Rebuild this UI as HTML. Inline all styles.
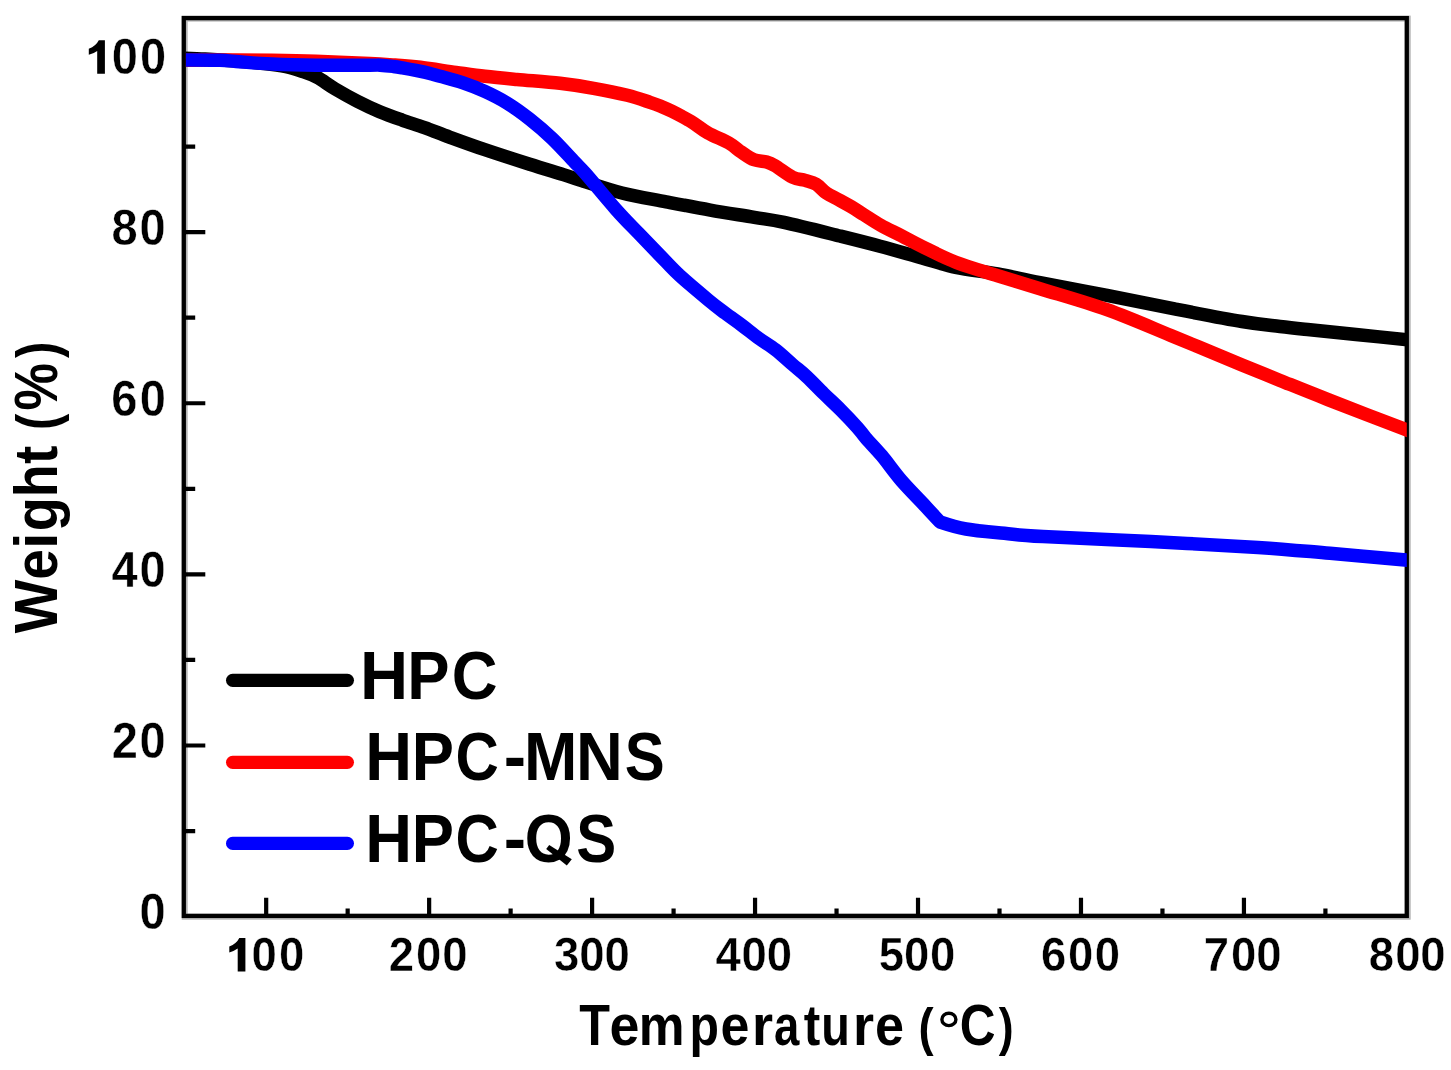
<!DOCTYPE html>
<html>
<head>
<meta charset="utf-8">
<title>TGA curves</title>
<style>
html, body { margin: 0; padding: 0; background: #ffffff; }
body { width: 1451px; height: 1070px; overflow: hidden; font-family: "Liberation Sans", sans-serif; }
svg { display: block; }
</style>
</head>
<body>
<svg width="1451" height="1070" viewBox="0 0 1451 1070">
<desc>TGA curves: Weight (%) versus Temperature (°C) from 50 to 800 for HPC (black), HPC-MNS (red) and HPC-QS (blue)</desc>
<rect x="0" y="0" width="1451" height="1070" fill="#ffffff"/>
<defs><filter id="soft" x="0" y="0" width="100%" height="100%" filterUnits="userSpaceOnUse"><feGaussianBlur stdDeviation="0.55"/></filter><clipPath id="plotclip"><rect x="185.90" y="18.20" width="1220.90" height="898.40"/></clipPath></defs>
<g filter="url(#soft)">
<rect x="184.70" y="18.60" width="1223.00" height="898.10" fill="none" stroke="#b4b4b4" stroke-width="6.0"/>
<path d="M266.18 916.60 V897.70 M347.66 916.60 V908.50 M429.14 916.60 V897.70 M510.62 916.60 V908.50 M592.10 916.60 V897.70 M673.58 916.60 V908.50 M755.06 916.60 V897.70 M836.54 916.60 V908.50 M918.02 916.60 V897.70 M999.50 916.60 V908.50 M1080.98 916.60 V897.70 M1162.46 916.60 V908.50 M1243.94 916.60 V897.70 M1325.42 916.60 V908.50 M184.70 831.04 H195.20 M184.70 745.48 H205.30 M184.70 659.91 H195.20 M184.70 574.35 H205.30 M184.70 488.79 H195.20 M184.70 403.23 H205.30 M184.70 317.67 H195.20 M184.70 232.10 H205.30 M184.70 146.54 H195.20 M184.70 60.98 H205.30" stroke="#000" stroke-width="4.20" fill="none"/>
<rect x="183.80" y="18.10" width="1223.00" height="897.80" fill="none" stroke="#000" stroke-width="4.3"/>
<g clip-path="url(#plotclip)" fill="none" stroke-linejoin="round" stroke-linecap="butt" stroke-width="13.5">
<path d="M180.00 58.00 C184.17 58.17 195.67 58.50 205.00 59.00 C214.33 59.50 226.17 60.25 236.00 61.00 C245.83 61.75 255.67 62.55 264.00 63.50 C272.33 64.45 279.67 65.40 286.00 66.70 C292.33 68.00 296.83 69.53 302.00 71.30 C307.17 73.07 311.53 74.40 317.00 77.30 C322.47 80.20 328.08 84.72 334.80 88.70 C341.52 92.68 349.82 97.37 357.30 101.20 C364.78 105.03 372.23 108.55 379.70 111.70 C387.17 114.85 394.63 117.45 402.10 120.10 C409.57 122.75 416.52 124.73 424.50 127.60 C432.48 130.47 439.95 133.62 450.00 137.30 C460.05 140.98 471.52 145.20 484.80 149.70 C498.08 154.20 516.62 160.15 529.70 164.30 C542.78 168.45 554.92 171.98 563.30 174.60 C571.68 177.22 570.22 176.93 580.00 180.00 C589.78 183.07 607.63 189.37 622.00 193.00 C636.37 196.63 651.48 198.95 666.20 201.80 C680.92 204.65 695.60 207.52 710.30 210.10 C725.00 212.68 742.12 215.25 754.40 217.30 C766.68 219.35 769.73 219.28 784.00 222.40 C798.27 225.52 824.00 232.03 840.00 236.00 C856.00 239.97 866.33 242.53 880.00 246.20 C893.67 249.87 909.38 254.48 922.00 258.00 C934.62 261.52 943.08 264.63 955.70 267.30 C968.32 269.97 983.65 271.45 997.70 274.00 C1011.75 276.55 1021.78 279.03 1040.00 282.60 C1058.22 286.17 1084.58 291.02 1107.00 295.40 C1129.42 299.78 1152.00 304.55 1174.50 308.90 C1197.00 313.25 1224.42 318.57 1242.00 321.50 C1259.58 324.43 1268.67 325.12 1280.00 326.50 C1291.33 327.88 1297.33 328.47 1310.00 329.80 C1322.67 331.13 1339.00 332.75 1356.00 334.50 C1373.00 336.25 1402.67 339.33 1412.00 340.30" stroke="#000000"/>
<path d="M180.00 60.30 C189.33 60.25 220.67 60.00 236.00 60.00 C251.33 60.00 258.67 60.08 272.00 60.30 C285.33 60.52 299.67 60.78 316.00 61.30 C332.33 61.82 356.83 62.77 370.00 63.40 C383.17 64.03 387.00 64.50 395.00 65.10 C403.00 65.70 407.83 65.78 418.00 67.00 C428.17 68.22 444.83 70.85 456.00 72.40 C467.17 73.95 474.83 75.12 485.00 76.30 C495.17 77.48 504.50 78.33 517.00 79.50 C529.50 80.67 547.23 81.83 560.00 83.30 C572.77 84.77 582.38 86.30 593.60 88.30 C604.82 90.30 617.90 92.97 627.30 95.30 C636.70 97.63 644.40 100.47 650.00 102.30 C655.60 104.13 657.23 104.80 660.90 106.30 C664.57 107.80 666.98 108.77 672.00 111.30 C677.02 113.83 685.03 117.90 691.00 121.50 C696.97 125.10 701.48 129.32 707.80 132.90 C714.12 136.48 723.28 139.78 728.90 143.00 C734.52 146.22 737.30 149.40 741.50 152.20 C745.70 155.00 749.90 158.18 754.10 159.80 C758.30 161.42 763.20 160.92 766.70 161.90 C770.20 162.88 770.78 163.15 775.10 165.70 C779.42 168.25 787.58 174.75 792.60 177.20 C797.62 179.65 801.27 179.23 805.20 180.40 C809.13 181.57 812.68 182.10 816.20 184.20 C819.72 186.30 822.52 190.38 826.30 193.00 C830.08 195.62 834.70 197.58 838.90 199.90 C843.10 202.22 847.30 204.40 851.50 206.90 C855.70 209.40 859.20 211.82 864.10 214.90 C869.00 217.98 874.68 221.93 880.90 225.40 C887.12 228.87 894.55 232.18 901.40 235.70 C908.25 239.22 912.95 242.08 922.00 246.50 C931.05 250.92 943.08 257.33 955.70 262.20 C968.32 267.07 983.65 271.28 997.70 275.70 C1011.75 280.12 1021.78 283.03 1040.00 288.70 C1058.22 294.37 1084.58 301.65 1107.00 309.70 C1129.42 317.75 1152.00 327.78 1174.50 337.00 C1197.00 346.22 1224.42 357.77 1242.00 365.00 C1259.58 372.23 1265.67 374.63 1280.00 380.40 C1294.33 386.17 1306.00 391.00 1328.00 399.60 C1350.00 408.20 1398.00 426.60 1412.00 432.00" stroke="#ff0000"/>
<path d="M180.00 60.00 C186.67 60.05 210.67 60.05 220.00 60.30 C229.33 60.55 227.33 60.88 236.00 61.50 C244.67 62.12 258.67 63.38 272.00 64.00 C285.33 64.62 299.67 65.00 316.00 65.20 C332.33 65.40 359.33 65.20 370.00 65.20 C380.67 65.20 376.17 65.00 380.00 65.20 C383.83 65.40 389.33 65.97 393.00 66.40 C396.67 66.83 396.75 66.83 402.00 67.80 C407.25 68.77 418.17 70.78 424.50 72.20 C430.83 73.62 433.68 74.57 440.00 76.30 C446.32 78.03 454.93 80.08 462.40 82.60 C469.87 85.12 477.32 87.97 484.80 91.40 C492.28 94.83 499.82 98.58 507.30 103.20 C514.78 107.82 522.23 113.22 529.70 119.10 C537.17 124.98 544.63 131.35 552.10 138.50 C559.57 145.65 568.90 156.12 574.50 162.00 C580.10 167.88 578.78 165.90 585.70 173.80 C592.62 181.70 607.20 199.50 616.00 209.40 C624.80 219.30 631.17 225.52 638.50 233.20 C645.83 240.88 653.08 248.40 660.00 255.50 C666.92 262.60 671.93 268.37 680.00 275.80 C688.07 283.23 700.87 293.87 708.40 300.10 C715.93 306.33 719.58 308.97 725.20 313.20 C730.82 317.43 736.48 321.30 742.10 325.50 C747.72 329.70 753.30 334.33 758.90 338.40 C764.50 342.47 770.10 345.55 775.70 349.90 C781.30 354.25 787.32 360.03 792.50 364.50 C797.68 368.97 801.62 371.87 806.80 376.70 C811.98 381.53 817.98 388.00 823.60 393.50 C829.22 399.00 834.88 404.05 840.50 409.70 C846.12 415.35 853.10 422.70 857.30 427.40 C861.50 432.10 861.62 433.18 865.70 437.90 C869.78 442.62 875.87 448.60 881.80 455.70 C887.73 462.80 894.05 472.10 901.30 480.50 C908.55 488.90 918.85 499.18 925.30 506.10 C931.75 513.02 940.00 522.00 940.00 522.00 C940.00 522.00 955.27 527.12 966.00 529.00 C976.73 530.88 991.57 532.03 1004.40 533.30 C1017.23 534.57 1018.57 535.22 1043.00 536.60 C1067.43 537.98 1115.17 539.80 1151.00 541.60 C1186.83 543.40 1228.17 545.45 1258.00 547.40 C1287.83 549.35 1304.33 551.10 1330.00 553.30 C1355.67 555.50 1398.33 559.38 1412.00 560.60" stroke="#0000ff"/>
</g>
<g font-family="'Liberation Sans', sans-serif" font-weight="bold" fill="#000">
<path d="M245.40 937.90 L245.40 971.40 L237.70 971.40 L237.70 948.60 Q234.00 951.30 229.30 952.40 L229.30 946.40 Q236.50 943.60 239.30 937.90 Z"/>
<text transform="translate(0 971.40) scale(1 1.0650)" font-size="45.50" x="251.43 279.03" y="0" stroke="#fff" stroke-width="0.4">00</text>
<text transform="translate(0 971.40) scale(1 1.0650)" font-size="45.50" x="388.67 416.13 442.18" y="0" stroke="#fff" stroke-width="0.4">200</text>
<text transform="translate(0 971.40) scale(1 1.0650)" font-size="45.50" x="554.00 579.23 604.38" y="0" stroke="#fff" stroke-width="0.4">300</text>
<text transform="translate(0 971.40) scale(1 1.0650)" font-size="45.50" x="715.58 741.43 766.83" y="0" stroke="#fff" stroke-width="0.4">400</text>
<text transform="translate(0 971.40) scale(1 1.0650)" font-size="45.50" x="878.78 903.93 929.93" y="0" stroke="#fff" stroke-width="0.4">500</text>
<text transform="translate(0 971.40) scale(1 1.0650)" font-size="45.50" x="1040.99 1067.93 1094.83" y="0" stroke="#fff" stroke-width="0.4">600</text>
<text transform="translate(0 971.40) scale(1 1.0650)" font-size="45.50" x="1203.87 1230.98 1256.33" y="0" stroke="#fff" stroke-width="0.4">700</text>
<text transform="translate(0 971.40) scale(1 1.0650)" font-size="45.50" x="1368.73 1395.18 1420.23" y="0" stroke="#fff" stroke-width="0.4">800</text>
<path d="M104.90 40.28 L104.90 73.78 L97.20 73.78 L97.20 50.98 Q93.50 53.68 88.80 54.78 L88.80 48.78 Q96.00 45.98 98.80 40.28 Z"/>
<text transform="translate(0 73.78) scale(1 1.0600)" font-size="47.00" x="111.71 139.91" y="0" stroke="#fff" stroke-width="0.4">00</text>
<text transform="translate(0 244.90) scale(1 1.0600)" font-size="47.00" x="111.61 139.61" y="0" stroke="#fff" stroke-width="0.4">80</text>
<text transform="translate(0 416.03) scale(1 1.0600)" font-size="47.00" x="111.17 139.81" y="0" stroke="#fff" stroke-width="0.4">60</text>
<text transform="translate(0 587.15) scale(1 1.0600)" font-size="47.00" x="111.40 139.61" y="0" stroke="#fff" stroke-width="0.4">40</text>
<text transform="translate(0 758.28) scale(1 1.0600)" font-size="47.00" x="111.76 139.61" y="0" stroke="#fff" stroke-width="0.4">20</text>
<text transform="translate(0 929.40) scale(1 1.0600)" font-size="47.00" x="139.41" y="0" stroke="#fff" stroke-width="0.4">0</text>
<text transform="translate(594.65 1044.90) scale(0.9667 1.0900)" font-size="52.00" x="-15.89" y="0">T</text>
<text transform="translate(624.55 1044.90) scale(1.0354 1.0900)" font-size="52.00" x="-14.59" y="0">e</text>
<text transform="translate(661.75 1044.90) scale(0.9903 1.0900)" font-size="52.00" x="-23.22" y="0">m</text>
<text transform="translate(704.80 1044.90) scale(0.9274 1.0900)" font-size="52.00" x="-16.53" y="0">p</text>
<text transform="translate(735.00 1044.90) scale(0.9995 1.0900)" font-size="52.00" x="-14.59" y="0">e</text>
<text transform="translate(763.90 1044.90) scale(1.0400 1.0900)" font-size="52.00" x="-11.44" y="0">r</text>
<text transform="translate(787.50 1044.90) scale(0.8764 1.0900)" font-size="52.00" x="-15.39" y="0">a</text>
<text transform="translate(811.90 1044.90) scale(0.9535 1.0900)" font-size="52.00" x="-8.66" y="0">t</text>
<text transform="translate(835.45 1044.90) scale(0.9000 1.0900)" font-size="52.00" x="-15.78" y="0">u</text>
<text transform="translate(864.85 1044.90) scale(1.0400 1.0900)" font-size="52.00" x="-11.44" y="0">r</text>
<text transform="translate(889.65 1044.90) scale(1.0035 1.0900)" font-size="52.00" x="-14.59" y="0">e</text>
<text transform="translate(927.25 1044.90) scale(0.8722 1.0000)" font-size="52.00" x="-9.93" y="0">(</text>
<text transform="translate(978.05 1044.90) scale(0.9530 1.0900)" font-size="52.00" x="-19.13" y="0">C</text>
<text transform="translate(1005.15 1044.90) scale(0.8600 1.0000)" font-size="52.00" x="-7.39" y="0">)</text>
<ellipse cx="948.9" cy="1019.4" rx="7.0" ry="6.2" fill="none" stroke="#000" stroke-width="3.4"/>
<text transform="translate(57.20 606.40) rotate(-90) scale(0.9965 1.0750)" font-size="57.00" x="-26.90" y="0">W</text>
<text transform="translate(57.20 564.30) rotate(-90) scale(0.9627 1.0750)" font-size="57.00" x="-15.99" y="0">e</text>
<text transform="translate(57.20 540.80) rotate(-90) scale(1.0400 1.0750)" font-size="57.00" x="-7.89" y="0">i</text>
<text transform="translate(57.20 515.00) rotate(-90) scale(0.9802 1.0750)" font-size="57.00" x="-16.67" y="0">g</text>
<text transform="translate(57.20 480.65) rotate(-90) scale(0.9449 1.0750)" font-size="57.00" x="-17.63" y="0">h</text>
<text transform="translate(57.20 454.85) rotate(-90) scale(0.9665 1.0750)" font-size="57.00" x="-9.49" y="0">t</text>
<text transform="translate(57.20 420.65) rotate(-90) scale(0.8600 1.0000)" font-size="57.00" x="-10.88" y="0">(</text>
<text transform="translate(57.20 386.85) rotate(-90) scale(0.9380 1.0750)" font-size="57.00" x="-25.30" y="0">%</text>
<text transform="translate(57.20 351.15) rotate(-90) scale(0.8600 1.0000)" font-size="57.00" x="-8.10" y="0">)</text>
<line x1="232.6" y1="680.30" x2="347.4" y2="680.30" stroke="#000000" stroke-width="13.2" stroke-linecap="round"/>
<text transform="translate(384.15 699.30) scale(1.0338 1.0600)" font-size="64.50" x="-23.27" y="0">H</text>
<text transform="translate(429.40 699.30) scale(0.9835 1.0600)" font-size="64.50" x="-22.57" y="0">P</text>
<text transform="translate(475.20 699.30) scale(0.9841 1.0600)" font-size="64.50" x="-23.73" y="0">C</text>
<line x1="232.6" y1="762.30" x2="347.4" y2="762.30" stroke="#ff0000" stroke-width="13.2" stroke-linecap="round"/>
<text transform="translate(388.60 779.60) scale(1.0048 1.0600)" font-size="64.50" x="-23.27" y="0">H</text>
<text transform="translate(433.85 779.60) scale(0.9808 1.0600)" font-size="64.50" x="-22.57" y="0">P</text>
<text transform="translate(477.45 779.60) scale(0.9296 1.0600)" font-size="64.50" x="-23.73" y="0">C</text>
<text transform="translate(514.90 779.60) scale(1.0400 1.0600)" font-size="64.50" x="-10.71" y="0">-</text>
<text transform="translate(550.75 779.60) scale(0.9934 1.0600)" font-size="64.50" x="-26.86" y="0">M</text>
<text transform="translate(599.30 779.60) scale(1.0048 1.0600)" font-size="64.50" x="-23.27" y="0">N</text>
<text transform="translate(644.50 779.60) scale(0.9290 1.0600)" font-size="64.50" x="-21.18" y="0">S</text>
<line x1="232.6" y1="843.40" x2="347.4" y2="843.40" stroke="#0000ff" stroke-width="13.2" stroke-linecap="round"/>
<text transform="translate(388.60 861.70) scale(1.0048 1.0600)" font-size="64.50" x="-23.27" y="0">H</text>
<text transform="translate(433.85 861.70) scale(0.9808 1.0600)" font-size="64.50" x="-22.57" y="0">P</text>
<text transform="translate(477.45 861.70) scale(0.9296 1.0600)" font-size="64.50" x="-23.73" y="0">C</text>
<text transform="translate(514.90 861.70) scale(1.0400 1.0600)" font-size="64.50" x="-10.71" y="0">-</text>
<text transform="translate(548.55 861.70) scale(0.9550 1.0600)" font-size="64.50" x="-25.05" y="0">O</text>
<text transform="translate(596.00 861.70) scale(0.9290 1.0600)" font-size="64.50" x="-21.18" y="0">S</text>
<polygon points="549.2,844.9 571.8,859.2 566.8,865.6 546.2,849.0"/>
</g>
</g>
</svg>
</body>
</html>
